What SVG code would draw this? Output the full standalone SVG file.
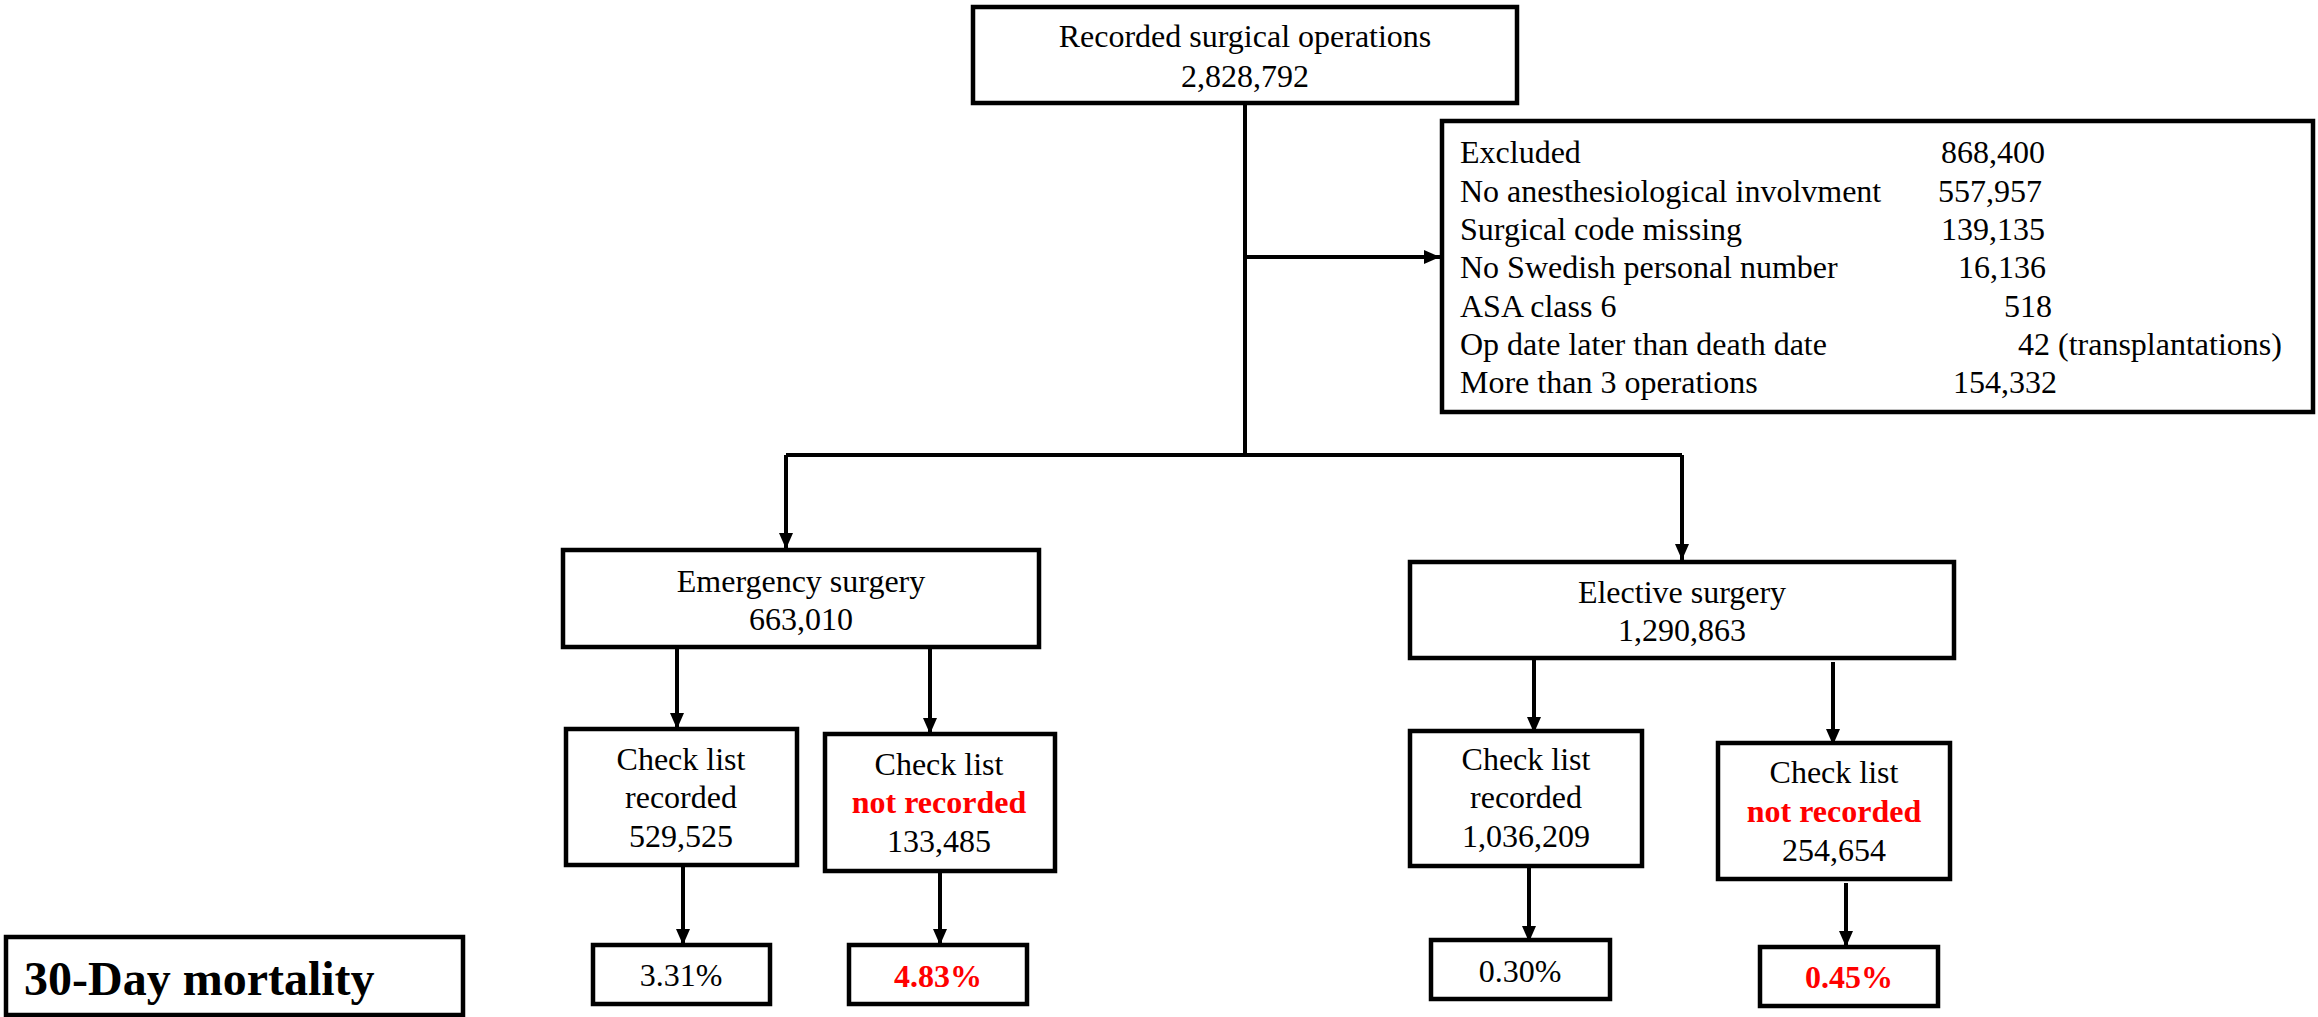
<svg xmlns="http://www.w3.org/2000/svg" width="2318" height="1017" viewBox="0 0 2318 1017">
<style>
.box{fill:#fff;stroke:#000;stroke-width:4.5}
.t{font-family:'Liberation Serif','Times New Roman',Times,'DejaVu Serif',serif;font-size:32px;fill:#000}
.c{text-anchor:middle}
.red{fill:#ff0000;font-weight:bold}
.b{font-weight:bold}
.ln{fill:none;stroke:#000;stroke-width:4}
</style>
<defs>
<marker id="ah" viewBox="0 0 16 14" refX="16" refY="7" markerWidth="16" markerHeight="14" markerUnits="userSpaceOnUse" orient="auto">
<path d="M0,0 L16,7 L0,14 Z" fill="#000"/>
</marker>
</defs>
<rect width="2318" height="1017" fill="#fff"/>
<g id="connectors">
<path class="ln" d="M1245,103 V455"/>
<path class="ln" d="M1245,257 H1440" marker-end="url(#ah)"/>
<path class="ln" d="M786,455 H1682"/>
<path class="ln" d="M786,455 V549" marker-end="url(#ah)"/>
<path class="ln" d="M1682,455 V560" marker-end="url(#ah)"/>
<path class="ln" d="M677,647 V729" marker-end="url(#ah)"/>
<path class="ln" d="M930,647 V734" marker-end="url(#ah)"/>
<path class="ln" d="M1534,658 V733" marker-end="url(#ah)"/>
<path class="ln" d="M1833,662 V745" marker-end="url(#ah)"/>
<path class="ln" d="M683,865 V945" marker-end="url(#ah)"/>
<path class="ln" d="M940,871 V945" marker-end="url(#ah)"/>
<path class="ln" d="M1529,866 V942" marker-end="url(#ah)"/>
<path class="ln" d="M1846,883 V947" marker-end="url(#ah)"/>
</g>
<g id="recorded">
<rect class="box" x="973" y="7" width="544" height="96"/>
<text class="t c" x="1245" y="47">Recorded surgical operations</text>
<text class="t c" x="1245" y="87">2,828,792</text>
</g>
<g id="excluded">
<rect class="box" x="1442" y="121" width="871" height="291"/>
<text class="t" x="1460" y="163">Excluded</text>
<text class="t" x="1941" y="163">868,400</text>
<text class="t" x="1460" y="202">No anesthesiological involvment</text>
<text class="t" x="1938" y="202">557,957</text>
<text class="t" x="1460" y="240">Surgical code missing</text>
<text class="t" x="1941" y="240">139,135</text>
<text class="t" x="1460" y="278">No Swedish personal number</text>
<text class="t" x="1958" y="278">16,136</text>
<text class="t" x="1460" y="317">ASA class 6</text>
<text class="t" x="2004" y="317">518</text>
<text class="t" x="1460" y="355">Op date later than death date</text>
<text class="t" x="2018" y="355">42 (transplantations)</text>
<text class="t" x="1460" y="393">More than 3 operations</text>
<text class="t" x="1953" y="393">154,332</text>
</g>
<g id="emergency">
<rect class="box" x="563" y="550" width="476" height="97"/>
<text class="t c" x="801" y="592">Emergency surgery</text>
<text class="t c" x="801" y="630">663,010</text>
</g>
<g id="elective">
<rect class="box" x="1410" y="562" width="544" height="96"/>
<text class="t c" x="1682" y="603">Elective surgery</text>
<text class="t c" x="1682" y="641">1,290,863</text>
</g>
<g id="em-recorded">
<rect class="box" x="566" y="729" width="231" height="136"/>
<text class="t c" x="681" y="770">Check list</text>
<text class="t c" x="681" y="808">recorded</text>
<text class="t c" x="681" y="847">529,525</text>
</g>
<g id="em-not-recorded">
<rect class="box" x="825" y="734" width="230" height="137"/>
<text class="t c" x="939" y="775">Check list</text>
<text class="t c red" x="939" y="813">not recorded</text>
<text class="t c" x="939" y="852">133,485</text>
</g>
<g id="el-recorded">
<rect class="box" x="1410" y="731" width="232" height="135"/>
<text class="t c" x="1526" y="770">Check list</text>
<text class="t c" x="1526" y="808">recorded</text>
<text class="t c" x="1526" y="847">1,036,209</text>
</g>
<g id="el-not-recorded">
<rect class="box" x="1718" y="743" width="232" height="136"/>
<text class="t c" x="1834" y="783">Check list</text>
<text class="t c red" x="1834" y="822">not recorded</text>
<text class="t c" x="1834" y="861">254,654</text>
</g>
<g id="mortality-label">
<rect class="box" x="6" y="937" width="457" height="78"/>
<text class="t b" x="24" y="995" style="font-size:48px">30-Day mortality</text>
</g>
<g id="m-em-rec">
<rect class="box" x="593" y="945" width="177" height="59"/>
<text class="t c" x="681" y="986">3.31%</text>
</g>
<g id="m-em-not">
<rect class="box" x="849" y="945" width="178" height="59"/>
<text class="t c red" x="938" y="987">4.83%</text>
</g>
<g id="m-el-rec">
<rect class="box" x="1431" y="940" width="179" height="59"/>
<text class="t c" x="1520" y="982">0.30%</text>
</g>
<g id="m-el-not">
<rect class="box" x="1760" y="947" width="178" height="59"/>
<text class="t c red" x="1849" y="988">0.45%</text>
</g>
</svg>
